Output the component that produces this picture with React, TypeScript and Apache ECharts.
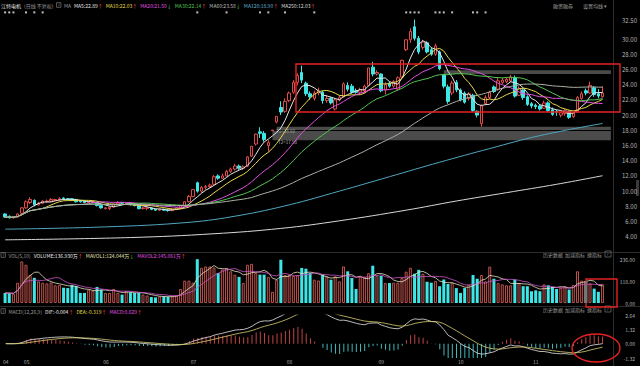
import React, { useEffect, useRef } from 'react';
import * as echarts from 'echarts';

// ---------------- data ----------------
const monthLabels = ['04', '05', '06', '07', '08', '09', '10', '11'];
const monthSessions = [5, 19, 21, 23, 22, 19, 18, 17];
const paddingSessions = 2;

// [open, close, low, high]
const ohlc: number[][] = [
  [7.0, 6.6, 6.5, 7.1], [6.7, 6.5, 6.4, 6.8], [6.5, 6.6, 6.4, 6.7], [6.6, 7.0, 6.5, 7.1], [7.1, 7.8, 7.0, 7.9],
  [7.8, 8.6, 7.7, 8.8], [8.5, 8.9, 8.3, 9.2], [8.8, 8.2, 8.0, 8.9], [8.2, 8.4, 8.1, 8.6], [8.4, 8.7, 8.3, 8.8],
  [8.6, 8.7, 8.5, 8.9], [8.7, 8.9, 8.6, 9.1], [8.8, 8.9, 8.7, 9.0], [8.9, 9.0, 8.7, 9.2], [9.1, 9.0, 8.8, 9.2],
  [9.0, 8.9, 8.8, 9.1], [9.0, 8.85, 8.7, 9.05], [8.9, 8.6, 8.5, 9.0], [8.7, 8.6, 8.5, 8.8], [8.7, 8.5, 8.4, 8.8],
  [8.5, 8.6, 8.4, 8.7], [8.55, 8.6, 8.4, 8.7], [8.5, 8.1, 8.0, 8.6], [8.1, 7.8, 7.7, 8.2], [7.7, 7.8, 7.6, 7.9],
  [7.7, 7.9, 7.5, 8.0], [7.9, 8.3, 7.8, 8.4], [8.3, 8.5, 8.2, 8.7], [8.5, 8.4, 8.3, 8.6], [8.3, 8.4, 8.2, 8.5],
  [8.4, 8.3, 8.1, 8.5], [8.3, 8.1, 8.0, 8.4], [8.1, 7.7, 7.6, 8.2], [7.7, 7.8, 7.6, 7.9], [7.75, 7.8, 7.5, 7.9],
  [7.8, 7.6, 7.5, 7.9], [7.6, 7.5, 7.4, 7.7], [7.5, 7.6, 7.4, 7.7], [7.6, 7.5, 7.4, 7.7], [7.5, 7.45, 7.3, 7.6],
  [7.45, 7.6, 7.4, 7.7], [7.6, 7.8, 7.5, 7.9], [7.8, 8.1, 7.7, 8.2], [8.1, 8.6, 8.0, 8.7], [8.6, 9.3, 8.5, 9.5],
  [9.3, 10.2, 9.2, 10.23], [11.1, 10.0, 9.8, 11.25], [10.0, 10.5, 9.8, 10.7], [10.5, 10.6, 10.2, 10.8], [10.6, 10.8, 10.4, 11.0],
  [10.9, 11.9, 10.8, 12.1], [12.0, 11.7, 11.5, 12.2], [11.7, 12.0, 11.6, 12.3], [12.0, 12.6, 11.9, 12.8], [12.6, 12.9, 12.4, 13.1],
  [12.9, 13.3, 12.7, 13.6], [13.3, 13.0, 12.8, 13.5], [13.0, 13.2, 12.8, 13.4], [13.3, 14.5, 13.2, 14.6], [14.6, 15.9, 14.5, 15.95],
  [16.2, 17.5, 16.0, 17.55], [17.8, 17.6, 17.0, 18.4], [17.6, 16.8, 16.5, 17.9], [16.0, 16.4, 15.2, 16.7], [17.95, 18.04, 17.9, 18.04],
  [19.1, 19.84, 18.9, 19.84], [21.0, 20.4, 20.0, 21.82], [20.5, 21.8, 20.3, 22.2], [21.9, 22.9, 21.7, 23.1], [23.0, 24.3, 22.8, 24.6],
  [24.3, 25.2, 23.9, 25.5], [25.6, 24.6, 24.2, 26.5], [24.2, 22.8, 22.5, 24.4], [22.8, 22.4, 22.0, 23.1], [22.2, 22.9, 21.9, 23.2],
  [22.9, 23.2, 22.6, 23.6], [23.0, 21.9, 21.5, 23.2], [21.9, 22.2, 21.6, 22.6], [22.2, 21.6, 21.4, 22.4], [20.8, 22.0, 20.6, 22.2],
  [22.0, 22.3, 21.8, 22.6], [22.4, 24.1, 22.3, 24.3], [23.9, 23.4, 23.1, 24.3], [23.8, 23.0, 22.8, 24.1], [23.2, 23.0, 22.8, 23.5],
  [23.0, 23.3, 22.9, 23.6], [23.2, 23.8, 22.9, 24.0], [23.9, 26.2, 23.8, 26.2], [26.3, 25.4, 25.1, 27.0], [25.4, 25.6, 25.2, 25.9],
  [25.4, 23.2, 23.0, 25.5], [23.3, 24.0, 22.7, 24.3], [24.2, 23.8, 23.6, 24.4], [23.8, 24.4, 23.6, 24.6], [23.4, 24.9, 23.2, 25.1],
  [25.0, 27.2, 24.9, 27.3], [28.6, 29.9, 28.4, 29.92], [29.9, 31.0, 29.5, 31.4], [31.6, 30.1, 29.8, 32.56], [30.1, 28.3, 28.0, 30.4],
  [28.9, 29.6, 28.6, 29.9], [29.5, 28.3, 28.1, 29.7], [28.6, 28.0, 27.8, 28.9], [28.0, 29.1, 27.8, 29.4], [28.3, 26.1, 25.9, 28.5],
  [25.3, 23.8, 23.5, 25.4], [23.7, 21.8, 21.5, 24.0], [22.9, 24.2, 22.6, 24.5], [24.3, 23.3, 23.0, 24.6], [23.3, 22.0, 21.8, 23.5],
  [22.9, 21.7, 21.5, 23.1], [22.2, 22.8, 21.9, 23.0], [22.6, 20.6, 20.4, 22.8], [20.5, 20.0, 19.7, 20.6], [18.9, 21.2, 18.47, 21.4],
  [21.5, 22.3, 21.3, 22.6], [22.3, 23.0, 22.1, 23.2], [23.7, 23.1, 22.9, 23.9], [23.4, 24.5, 23.2, 24.9], [24.3, 24.6, 24.1, 24.9],
  [24.4, 24.7, 24.2, 24.9], [24.5, 25.0, 24.3, 25.3], [24.9, 22.5, 22.3, 25.2], [22.6, 23.5, 22.5, 23.8], [23.3, 22.3, 22.0, 23.5],
  [22.4, 21.4, 21.2, 22.6], [21.5, 21.2, 20.9, 21.7], [21.3, 21.1, 20.8, 21.5], [21.2, 20.8, 20.6, 21.4], [20.9, 21.6, 20.8, 21.9],
  [21.6, 20.6, 20.4, 21.8], [20.7, 20.1, 19.9, 21.0], [20.5, 20.4, 19.9, 20.7], [20.0, 20.3, 19.7, 20.4], [20.2, 20.6, 19.9, 20.8],
  [20.5, 19.7, 19.5, 20.6], [19.8, 20.3, 19.6, 20.5], [20.4, 22.3, 20.3, 22.5], [22.2, 22.8, 22.0, 23.1], [23.2, 22.9, 22.6, 23.5],
  [22.9, 23.9, 22.8, 24.4], [23.6, 22.7, 22.4, 23.8], [22.8, 22.5, 22.2, 23.4], [22.4, 22.9, 22.3, 23.8],
];

// volume (万手)
const volumes: number[] = [
  54, 52, 50, 109, 223, 205, 150, 135, 116, 109,
  105, 110, 95, 97, 82, 80, 97, 91, 54, 54,
  72, 65, 86, 72, 54, 54, 75, 54, 45, 63,
  58, 54, 54, 45, 40, 32, 30, 36, 36, 34,
  36, 40, 75, 120, 120, 109, 235, 189, 196, 196,
  190, 161, 180, 188, 170, 152, 140, 107, 205, 210,
  161, 152, 152, 140, 60, 125, 232, 150, 152, 145,
  150, 188, 184, 161, 125, 121, 152, 143, 125, 143,
  116, 196, 170, 134, 75, 143, 140, 160, 200, 146,
  146, 107, 107, 109, 109, 135, 168, 189, 157, 178,
  157, 114, 109, 118, 90, 126, 102, 109, 80, 54,
  80, 98, 150, 130, 150, 116, 195, 130, 107, 100,
  95, 95, 126, 107, 90, 90, 63, 68, 63, 100,
  95, 86, 75, 82, 90, 72, 97, 170, 120, 116,
  105, 77, 60, 100,
];

// long moving averages: [session index, value]
const ma120Points: number[][] = [
  [0, 5.0], [24, 5.3], [44, 5.9], [56, 6.8], [68, 8.2], [80, 10.0], [92, 11.9], [104, 13.8], [116, 15.6], [128, 17.3], [143, 18.9],
];
const ma250Points: number[][] = [
  [0, 3.6], [30, 3.9], [50, 4.4], [66, 5.1], [80, 6.1], [96, 7.5], [108, 8.7], [120, 9.8], [132, 10.9], [143, 12.03],
];

// information-mine markers above the candles (session indexes)
const eventIdx = [0, 1, 2, 5, 7, 9, 46, 53, 61, 63, 67, 74, 96, 97, 98, 99, 103, 104, 105, 107, 112, 113, 115];

// unfilled price gaps: start session, lower edge, upper edge
const gapZones = [
  { from: 64, low: 16.7, high: 17.9 },
  { from: 65, low: 18.04, high: 18.47 },
  { from: 105, low: 25.4, high: 25.9 },
];
const highMark = { idx: 98, value: 32.56 };

const maPeriods = [5, 10, 20, 30, 60];
const maColors = ['#e6e6e6', '#e6d84c', '#e050e0', '#52c452', '#a9b0a4'];

// ---------------- derived ----------------
const categories: string[] = [];
monthLabels.forEach((m, k) => {
  for (let d = 1; d <= monthSessions[k]; d++) categories.push(`${m}-${String(d).padStart(2, '0')}`);
});
for (let k = 0; k < paddingSessions; k++) categories.push(`pad${k}`);

const closes = ohlc.map((d) => d[1]);

function movingAvg(arr: number[], n: number): number[] {
  return arr.map((_, i) => {
    const s = Math.max(0, i - n + 1);
    let sum = 0;
    for (let j = s; j <= i; j++) sum += arr[j];
    return +(sum / (i - s + 1)).toFixed(3);
  });
}

function macdCalc(cl: number[]) {
  let e12 = cl[0];
  let e26 = cl[0];
  let dea = 0;
  const dif: number[] = [];
  const deaA: number[] = [];
  const hist: number[] = [];
  cl.forEach((c, i) => {
    if (i > 0) {
      e12 = (e12 * 11) / 13 + (c * 2) / 13;
      e26 = (e26 * 25) / 27 + (c * 2) / 27;
    }
    const d = e12 - e26;
    dea = dea * 0.8 + d * 0.2;
    dif.push(+d.toFixed(4));
    deaA.push(+dea.toFixed(4));
    hist.push(+(2 * (d - dea)).toFixed(4));
  });
  return { dif, dea: deaA, hist };
}

const isUp = (i: number) => {
  const [o, c] = ohlc[i];
  if (c !== o) return c > o;
  return i === 0 ? true : c >= ohlc[i - 1][1];
};

const UP = '#e24a4a';
const DOWN = '#3ee6e6';
const FONT = '"Noto Sans CJK SC", "Noto Sans", sans-serif';
const RED_ARROW = '#ff4a4a';
const GREEN_ARROW = '#3ed43e';

function txt(text: string, x: number, y: number, fill: string, size = 5) {
  return {
    type: 'text',
    x,
    y,
    silent: true,
    style: { text, fill, fontSize: size, fontFamily: FONT, verticalAlign: 'middle' },
  };
}

// one line of flowing rich text (so items never collide)
function richLine(x: number, y: number, parts: [string, string][], size = 5) {
  const rich: Record<string, any> = {
    box: { fill: '#9a9a9a', color: '#9a9a9a', fontSize: 4.2, borderColor: '#8a8a8a', borderWidth: 0.6, padding: [0.5, 1.2, 0, 1.2], fontFamily: FONT },
    sp: { fontSize: size, width: 3, fontFamily: FONT },
  };
  let text = '';
  parts.forEach(([s, color], k) => {
    const key = `p${k}`;
    if (color === 'box') {
      text += `{box|${s}}`;
    } else if (color === 'sp') {
      text += `{sp| }`;
    } else {
      rich[key] = { color, fill: color, fontSize: size, fontFamily: FONT };
      text += `{${key}|${s}}`;
    }
  });
  return {
    type: 'text',
    x,
    y,
    silent: true,
    style: { text, rich, fontSize: size, fontFamily: FONT, verticalAlign: 'middle', fill: '#aaa' },
  };
}

function box(x: number, y: number) {
  return [
    { type: 'rect', shape: { x, y: y - 3, width: 6, height: 6 }, style: { fill: 'none', stroke: '#8a8a8a', lineWidth: 0.6 }, silent: true },
    txt('?', x + 1.6, y, '#9a9a9a', 4.5),
  ];
}

export default function App() {
  const ref = useRef<HTMLDivElement>(null);

  useEffect(() => {
    if (!ref.current) return;
    const chart = echarts.init(ref.current, undefined, { renderer: 'svg' });

    const mas = maPeriods.map((p) => movingAvg(closes, p));
    const volMa5 = movingAvg(volumes, 5);
    const volMa10 = movingAvg(volumes, 10);
    const m = macdCalc(closes);

    const xAxisBase = (g: number) => ({
      type: 'category',
      gridIndex: g,
      data: categories,
      boundaryGap: true,
      axisLine: { show: false },
      axisTick: { show: false },
      splitLine: { show: false },
      axisLabel:
        g === 2
          ? {
              show: true,
              interval: (_i: number, v: string) => v.endsWith('-01'),
              formatter: (v: string) => v.slice(0, 2),
              color: '#a8a8a8',
              fontSize: 5,
              fontFamily: FONT,
              margin: 1,
            }
          : { show: false },
    });

    const yBase = {
      position: 'right',
      axisLine: { show: false },
      axisTick: { show: false },
      splitLine: { show: false },
    };

    const header: any[] = [
      richLine(1, 5, [
        ['江特电机', '#ececec'], ['sp', 'sp'], ['(日线 不复权)', '#9a9a9a'], ['sp', 'sp'], ['?', 'box'], ['sp', 'sp'],
        ['MA', '#9a9a9a'], ['sp', 'sp'],
        ['MA5:22.89', maColors[0]], ['↑', RED_ARROW], ['sp', 'sp'],
        ['MA10:22.03', maColors[1]], ['↑', RED_ARROW], ['sp', 'sp'],
        ['MA20:21.50', maColors[2]], ['↓', GREEN_ARROW], ['sp', 'sp'],
        ['MA30:22.14', maColors[3]], ['↑', RED_ARROW], ['sp', 'sp'],
        ['MA60:23.58', '#bdbdbd'], ['↓', GREEN_ARROW], ['sp', 'sp'],
        ['MA120:18.90', '#62b4d4'], ['↑', RED_ARROW], ['sp', 'sp'],
        ['MA250:12.03', '#dcdcdc'], ['↑', RED_ARROW],
      ]),
      txt('融资融券', 553, 5, '#a0a0a0'),
      txt('设置均线', 583, 5, '#a0a0a0'), txt('▾', 604, 5, '#a0a0a0'),
      // volume header
      richLine(1, 255, [
        ['?', 'box'], ['sp', 'sp'], ['VOL(5,10)', '#9a9a9a'], ['sp', 'sp'],
        ['VOLUME:136.930万', '#ececec'], ['↑', RED_ARROW], ['sp', 'sp'],
        ['MAVOL1:124.044万', '#e6e2b0'], ['↓', GREEN_ARROW], ['sp', 'sp'],
        ['MAVOL2:145.061万', '#e050e0'], ['↑', RED_ARROW],
      ]),
      txt('历史数据', 543, 254, '#9a9a9a'), txt('加减指标', 565, 254, '#9a9a9a'), txt('换指标', 587, 254, '#9a9a9a'),
      ...box(605, 254),
      // MACD header
      richLine(1, 311, [
        ['?', 'box'], ['sp', 'sp'], ['MACD(12,26,9)', '#9a9a9a'], ['sp', 'sp'],
        ['DIF:-0.004', '#ececec'], ['↑', RED_ARROW], ['sp', 'sp'],
        ['DEA:-0.319', '#e6d84c'], ['↑', RED_ARROW], ['sp', 'sp'],
        ['MACD:0.629', '#e050e0'], ['↑', RED_ARROW],
      ]),
      txt('历史数据', 543, 309, '#9a9a9a'), txt('加减指标', 565, 309, '#9a9a9a'), txt('换指标', 587, 309, '#9a9a9a'),
      ...box(605, 309),
      // gap labels
      txt('T1=18.60', 276, 131, '#bdbdbd', 4.5),
      txt('T2=17.58', 278, 142, '#bdbdbd', 4.5),
    ];

    const frame: any[] = [
      { type: 'line', shape: { x1: 0, y1: 252.5, x2: 640, y2: 252.5 }, style: { stroke: '#2c2c2c', lineWidth: 1 }, silent: true },
      { type: 'line', shape: { x1: 0, y1: 306.5, x2: 640, y2: 306.5 }, style: { stroke: '#2c2c2c', lineWidth: 1 }, silent: true },
      { type: 'line', shape: { x1: 613.5, y1: 0, x2: 613.5, y2: 366 }, style: { stroke: '#2c2c2c', lineWidth: 1 }, silent: true },
      { type: 'rect', shape: { x: 636, y: 180, width: 3, height: 16 }, style: { fill: '#3a3a3a' }, silent: true },
      // annotations (hand drawn in the original)
      { type: 'rect', shape: { x: 296, y: 64, width: 324, height: 48 }, style: { fill: 'none', stroke: '#e42222', lineWidth: 1.4 }, silent: true, z: 100 },
      { type: 'rect', shape: { x: 586, y: 279, width: 31, height: 28 }, style: { fill: 'none', stroke: '#e42222', lineWidth: 1.4 }, silent: true, z: 100 },
      { type: 'ellipse', shape: { cx: 596, cy: 348, rx: 24, ry: 14 }, style: { fill: 'none', stroke: '#e42222', lineWidth: 1.4 }, silent: true, z: 100 },
    ];

    const option: any = {
      animation: false,
      backgroundColor: '#000',
      textStyle: { fontFamily: FONT },
      grid: [
        { left: 3, right: 27, top: 20, height: 232 },
        { left: 3, right: 27, top: 259, height: 44 },
        { left: 3, right: 27, top: 315, height: 43 },
      ],
      xAxis: [xAxisBase(0), xAxisBase(1), xAxisBase(2)],
      yAxis: [
        {
          ...yBase,
          type: 'value',
          gridIndex: 0,
          min: 2,
          max: 32.5,
          interval: 2,
          axisLabel: {
            color: '#b4b4b4',
            fontSize: 6,
            fontFamily: FONT,
            align: 'right',
            margin: 24,
            formatter: (v: number) => (v === 2 || v === 32 ? '' : v.toFixed(2)),
          },
        },
        {
          ...yBase,
          type: 'value',
          gridIndex: 1,
          min: 0,
          max: 236,
          interval: 118,
          axisLabel: { color: '#b4b4b4', fontSize: 5, fontFamily: FONT, align: 'right', margin: 22, formatter: (v: number) => v.toFixed(2) },
        },
        {
          ...yBase,
          type: 'value',
          gridIndex: 2,
          min: -1.32,
          max: 2.64,
          interval: 1.32,
          axisLabel: { color: '#b4b4b4', fontSize: 5, fontFamily: FONT, align: 'right', margin: 22, formatter: (v: number) => v.toFixed(2) },
        },
      ],
      series: [
        {
          type: 'candlestick',
          name: 'K',
          xAxisIndex: 0,
          yAxisIndex: 0,
          data: ohlc,
          barWidth: 3,
          itemStyle: { color: '#000', color0: DOWN, borderColor: UP, borderColor0: DOWN, borderWidth: 1 },
          markArea: {
            silent: true,
            itemStyle: { color: 'rgba(150,150,150,0.5)' },
            data: gapZones.map((g) => [
              { xAxis: g.from, yAxis: g.low },
              { xAxis: categories.length - 1, yAxis: g.high },
            ]),
          },
          markPoint: {
            silent: true,
            symbolSize: 0,
            data: [{ coord: [highMark.idx, highMark.value] }],
            label: {
              show: true,
              position: 'right',
              distance: 1,
              formatter: '—' + highMark.value.toFixed(2),
              color: '#dcdcdc',
              fontSize: 5,
              fontFamily: FONT,
            },
          },
        },
        ...maPeriods.map((p, k) => ({
          type: 'line',
          name: `MA${p}`,
          xAxisIndex: 0,
          yAxisIndex: 0,
          data: mas[k],
          showSymbol: false,
          symbol: 'none',
          lineStyle: { width: 1, color: maColors[k] },
          z: 3,
        })),
        {
          type: 'line',
          name: 'MA120',
          xAxisIndex: 0,
          yAxisIndex: 0,
          data: ma120Points,
          smooth: 0.4,
          symbol: 'none',
          lineStyle: { width: 1, color: '#4fa6bf' },
          z: 3,
        },
        {
          type: 'line',
          name: 'MA250',
          xAxisIndex: 0,
          yAxisIndex: 0,
          data: ma250Points,
          smooth: 0.4,
          symbol: 'none',
          lineStyle: { width: 1, color: '#d8d8d8' },
          z: 3,
        },
        {
          type: 'scatter',
          name: 'events',
          xAxisIndex: 0,
          yAxisIndex: 0,
          clip: false,
          symbol: 'rect',
          symbolSize: [2, 2],
          itemStyle: { color: '#f0f0f0' },
          data: eventIdx.map((i) => [i, 33.5]),
        },
        {
          type: 'bar',
          name: 'VOL',
          xAxisIndex: 1,
          yAxisIndex: 1,
          barWidth: 3,
          data: volumes.map((v, i) => ({
            value: v,
            itemStyle: isUp(i)
              ? { color: '#140404', borderColor: '#b9534d', borderWidth: 1 }
              : { color: DOWN, borderColor: DOWN, borderWidth: 0 },
          })),
        },
        {
          type: 'line',
          name: 'MAVOL1',
          xAxisIndex: 1,
          yAxisIndex: 1,
          data: volMa5,
          symbol: 'none',
          lineStyle: { width: 0.8, color: '#e6e2c0' },
          z: 3,
        },
        {
          type: 'line',
          name: 'MAVOL2',
          xAxisIndex: 1,
          yAxisIndex: 1,
          data: volMa10,
          symbol: 'none',
          lineStyle: { width: 0.8, color: '#cc55cc' },
          z: 3,
        },
        {
          type: 'bar',
          name: 'MACD',
          xAxisIndex: 2,
          yAxisIndex: 2,
          barWidth: 1,
          data: m.hist.map((v) => ({ value: v, itemStyle: { color: v >= 0 ? '#c04444' : '#44b8b8' } })),
        },
        {
          type: 'line',
          name: 'DIF',
          xAxisIndex: 2,
          yAxisIndex: 2,
          data: m.dif,
          symbol: 'none',
          lineStyle: { width: 0.8, color: '#e8e8e8' },
          z: 3,
        },
        {
          type: 'line',
          name: 'DEA',
          xAxisIndex: 2,
          yAxisIndex: 2,
          data: m.dea,
          symbol: 'none',
          lineStyle: { width: 0.8, color: '#dcd070' },
          z: 3,
        },
      ],
      graphic: [...frame, ...header],
    };

    chart.setOption(option);
    return () => chart.dispose();
  }, []);

  return (
    <div
      ref={ref}
      style={{ position: 'fixed', left: 0, top: 0, width: 640, height: 366, background: '#000' }}
    />
  );
}
